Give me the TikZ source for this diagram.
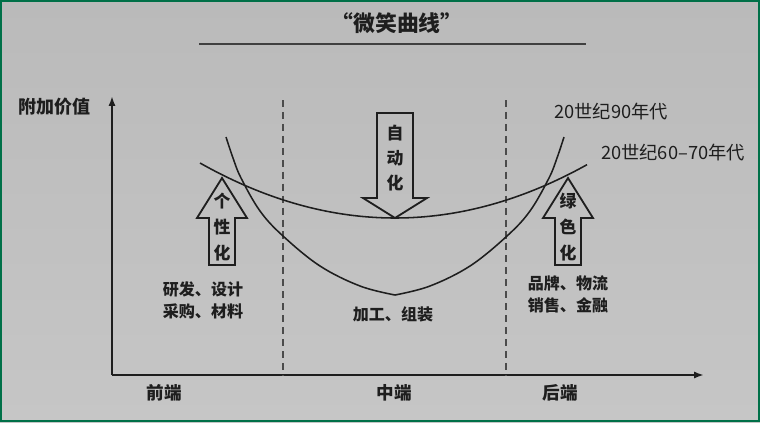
\documentclass[tikz,border=0pt]{standalone}
\usepackage{fontspec}
\setmainfont{Noto Sans CJK SC}
\usetikzlibrary{arrows.meta}

\definecolor{framegreen}{RGB}{0,112,72}
\definecolor{ink}{RGB}{30,30,30}
\definecolor{bgtop}{RGB}{186,186,186}
\definecolor{bgbottom}{RGB}{198,198,198}

\tikzset{
    curve/.style={ink,line width=1.1pt},
    blockarrow/.style={ink,line width=1.3pt,line join=miter},
    divider/.style={ink!80,line width=0.8pt,dash pattern=on 5pt off 3.5pt},
    axis/.style={ink,line width=1.5pt,-{Latex[length=7pt,width=5pt]}},
    label/.style={ink,font=\fontsize{11.4}{15.6}\selectfont\bfseries,align=center},
    vtext/.style={ink,font=\fontsize{12}{18.5}\selectfont\bfseries,align=center},
    section/.style={ink,font=\fontsize{12.5}{15}\selectfont\bfseries}
}

\begin{document}
\begin{tikzpicture}[x=0.025cm,y=-0.025cm]

\useasboundingbox (0,0) rectangle (760,422);
\shade[top color=bgtop,middle color=white,bottom color=bgbottom] (0,0) rectangle (760,422);
\draw[framegreen,line width=1.4pt] (1,1) rectangle (759,421);

% title
\node[ink,font=\fontsize{15.5}{18}\selectfont\bfseries] (title) at (397,23) {“微笑曲线”};
\coordinate (ruleL) at (199,44);
\coordinate (ruleR) at (586,44);
\draw[gray!50!black,line width=1.4pt] (ruleL) -- (ruleR);

% axes
\coordinate (origin) at (112,375);
\coordinate (ytop) at (112,96);
\coordinate (xend) at (704,375);
\draw[axis] (origin) -- (ytop);
\draw[axis] (origin) -- (xend);
\node[ink,font=\fontsize{12.8}{15}\selectfont\bfseries] (value) at (54,107) {附加价值};

\foreach \x in {283,506}
    \draw[divider] (\x,100) -- (\x,375);

\foreach \x/\name/\txt in {164/front/前端,394/middle/中端,560/back/后端}
    \node[section] (\name) at (\x,393) {\txt};

% 20世纪60-70年代
\draw[curve] plot[domain=200:587,samples=80] (\x,{218-55*((\x-395)/195)^2});
% 20世纪90年代
\draw[curve] plot[smooth,tension=0.6] coordinates {(226,137) (233,158) (241,178) (260,211) (283,236) (320,266) (360,286) (395,295)};
\draw[curve] plot[smooth,tension=0.6] coordinates {(395,295) (430,286) (470,266) (507,236) (530,211) (549,178) (557,158) (564,137)};

\node[ink,font=\fontsize{13}{15}\selectfont] (late) at (611,112) {20世纪90年代};
\node[ink,font=\fontsize{13}{15}\selectfont] (early) at (673,153) {20世纪60–70年代};

% block arrows
\draw[blockarrow] (209,265) -- (209,218) -- (197,218) -- (222,178) -- (247,218) -- (235,218) -- (235,265) -- cycle;
\draw[blockarrow] (555,265) -- (555,218) -- (543,218) -- (568,178) -- (593,218) -- (581,218) -- (581,265) -- cycle;
\draw[blockarrow] (377,113) -- (377,198) -- (363,198) -- (395,218) -- (427,198) -- (413,198) -- (413,113) -- cycle;

\node[vtext] (personal) at (222,227) {个\\性\\化};
\node[vtext] (green) at (568,227) {绿\\色\\化};
\node[vtext,font=\fontsize{12}{17.8}\selectfont\bfseries] (auto) at (395,158) {自\\动\\化};

\node[label] (research) at (203,300) {研发、设计\\采购、材料};
\node[label] (assembly) at (393,314) {加工、组装};
\node[label] (brand) at (568,294) {品牌、物流\\销售、金融};

\end{tikzpicture}
\end{document}
